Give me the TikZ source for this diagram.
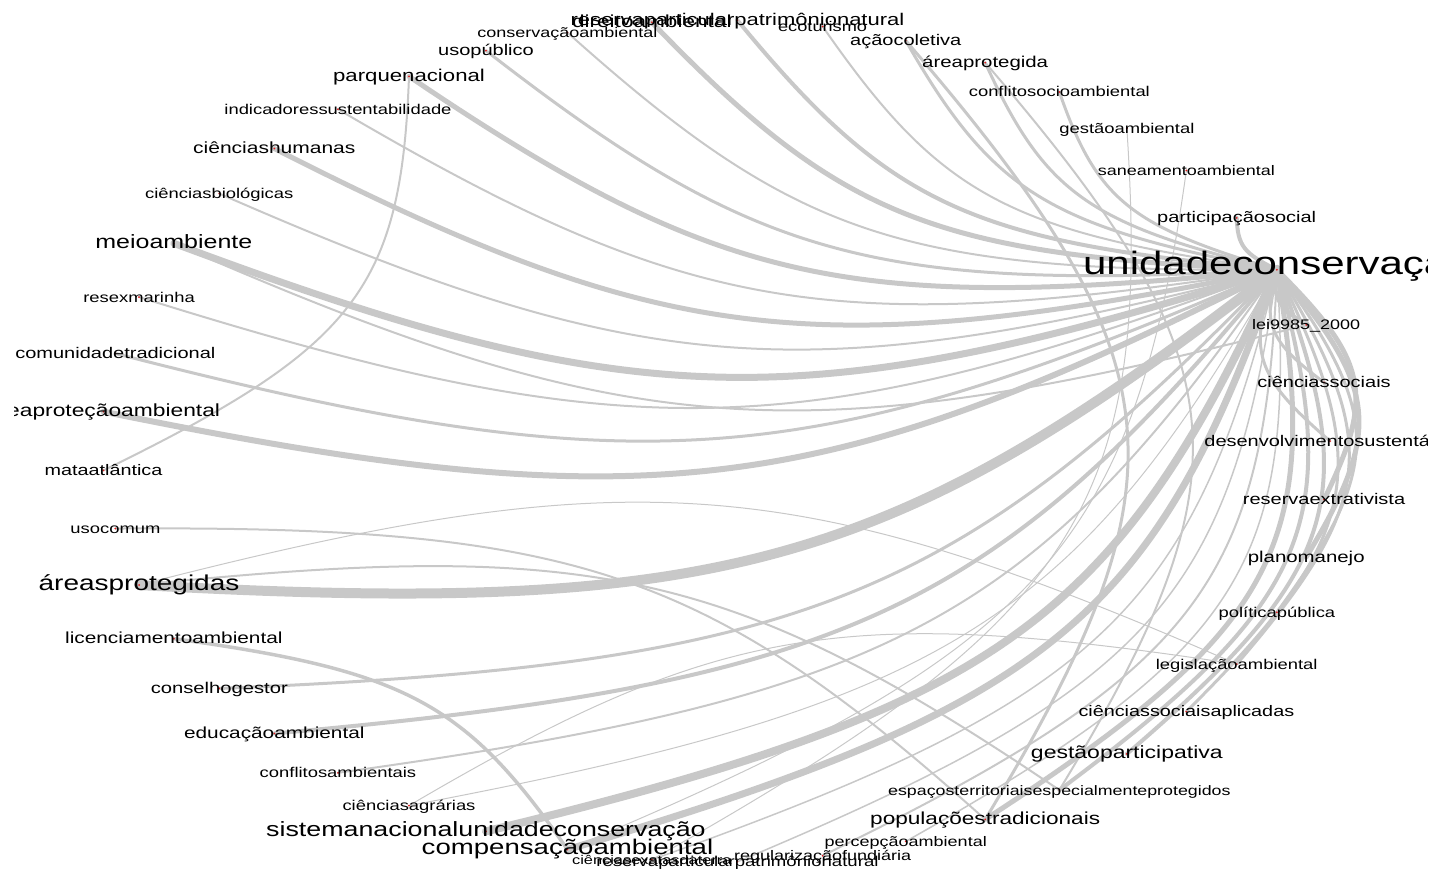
\documentclass[tikz,border=0pt]{standalone}
\usepackage{fontspec}
\setmainfont{Liberation Sans}
\usetikzlibrary{calc}
\definecolor{edgegray}{RGB}{200,200,200}
\definecolor{vertexred}{RGB}{225,30,30}
% curved link between two vertices on the unit circle (vertex k sits at 8k degrees)
\newcommand\arcedge[3]{%
  \pgfmathsetmacro\ea{8*#1}%
  \pgfmathsetmacro\eb{8*#2}%
  \coordinate (ectl) at ({(cos(\ea)+cos(\eb))/2-0.25*(sin(\eb)-sin(\ea))},{(sin(\ea)+sin(\eb))/2+0.25*(cos(\eb)-cos(\ea))});
  \draw[edge,line width=#3*0.5pt] (v#1) .. controls ($(v#1)!0.85!(ectl)$) and ($(v#2)!0.85!(ectl)$) .. (v#2);
}
% label on its vertex; #2 is the size the text would have unstretched,
% the glyphs are set smaller and widened by 1.3
\newcommand\vlabel[3]{%
  \pgfmathsetmacro\lblsize{#2/1.3}%
  \node[lbl,font=\fontsize{\lblsize pt}{\lblsize pt}\selectfont] (n#1) at (v#1) {\scalebox{1.3}[1]{#3}};}
\begin{document}
\begin{tikzpicture}[x=307pt,y=210.5pt,
  edge/.style={draw=edgegray,line cap=round,line join=round},
  lbl/.style={anchor=base,yshift=-2.5pt,inner sep=0pt,text=black}]
\useasboundingbox (-1.16612,-1.02138) rectangle (1.16612,1.04751);
\clip (-1.1433,-1.02138) rectangle (1.1580,1.04751);
\foreach \i in {0,...,44}{\coordinate (v\i) at ({cos(8*\i)},{sin(8*\i)});}

% links of unidadeconservação
\arcedge{0}{3}{3}
\arcedge{1}{3}{3}
\arcedge{2}{3}{4}
\arcedge{3}{4}{4}
\arcedge{3}{7}{3}
\arcedge{3}{8}{3}
\arcedge{3}{9}{3}
\arcedge{3}{10}{2}
\arcedge{3}{11}{4}
\arcedge{3}{12}{5}
\arcedge{3}{13}{2}
\arcedge{3}{14}{3}
\arcedge{3}{15}{5}
\arcedge{3}{16}{2}
\arcedge{3}{17}{5}
\arcedge{3}{18}{2}
\arcedge{3}{19}{7}
\arcedge{3}{20}{2}
\arcedge{3}{21}{3}
\arcedge{3}{22}{6}
\arcedge{3}{25}{10}
\arcedge{3}{27}{3}
\arcedge{3}{28}{4}
\arcedge{3}{29}{2}
\arcedge{3}{30}{1}
\arcedge{3}{31}{8}
\arcedge{3}{32}{7}
\arcedge{3}{33}{1.5}
\arcedge{3}{34}{1.5}
\arcedge{3}{35}{2}
\arcedge{3}{36}{1.5}
\arcedge{3}{37}{5}
\arcedge{3}{38}{4}
\arcedge{3}{39}{4}
\arcedge{3}{40}{3}
\arcedge{3}{41}{3}
\arcedge{3}{42}{3}
\arcedge{3}{43}{5}
\arcedge{3}{44}{5}
% other links
\arcedge{2}{19}{2}
\arcedge{15}{23}{2}
\arcedge{26}{32}{3.5}
\arcedge{24}{37}{2}
\arcedge{25}{38}{2}
\arcedge{25}{41}{1}
\arcedge{30}{41}{1}
\arcedge{9}{37}{3}
\arcedge{8}{38}{2}
\arcedge{6}{33}{1}
\arcedge{5}{32}{1}

% vertex markers
\foreach \i in {0,...,44}{\fill[vertexred] (v\i) circle (0.5pt);}

% labels
\vlabel{0}{10}{desenvolvimentosustentável}
\vlabel{1}{10}{ciênciassociais}
\vlabel{2}{9}{lei9985\_2000}
\vlabel{3}{21}{unidadeconservação}
\vlabel{4}{10}{participaçãosocial}
\vlabel{5}{9}{saneamentoambiental}
\vlabel{6}{9.2}{gestãoambiental}
\vlabel{7}{9.2}{conflitosocioambiental}
\vlabel{8}{10.2}{áreaprotegida}
\vlabel{9}{10}{açãocoletiva}
\vlabel{10}{9.1}{ecoturismo}
\vlabel{11}{11}{reservaparticularpatrimônionatural}
\vlabel{12}{11.3}{direitoambiental}
\vlabel{13}{9}{conservaçãoambiental}
\vlabel{14}{10}{usopúblico}
\vlabel{15}{11.1}{parquenacional}
\vlabel{16}{9.2}{indicadoressustentabilidade}
\vlabel{17}{10.5}{ciênciashumanas}
\vlabel{18}{9.2}{ciênciasbiológicas}
\vlabel{19}{12.5}{meioambiente}
\vlabel{20}{9.2}{resexmarinha}
\vlabel{21}{10}{comunidadetradicional}
\vlabel{22}{11.4}{áreaproteçãoambiental}
\vlabel{23}{9.9}{mataatlântica}
\vlabel{24}{9.2}{usocomum}
\vlabel{25}{14}{áreasprotegidas}
\vlabel{26}{10.4}{licenciamentoambiental}
\vlabel{27}{10.1}{conselhogestor}
\vlabel{28}{10.4}{educaçãoambiental}
\vlabel{29}{9.2}{conflitosambientais}
\vlabel{30}{9.2}{ciênciasagrárias}
\vlabel{31}{13.4}{sistemanacionalunidadeconservação}
\vlabel{32}{13.8}{compensaçãoambiental}
\vlabel{33}{8.2}{ciênciasexatasdaterra}
\vlabel{34}{9.3}{reservaparticularpatrimônionatural}
\vlabel{35}{9}{regularizaçãofundiária}
\vlabel{36}{9}{percepçãoambiental}
\vlabel{37}{11.3}{populaçõestradicionais}
\vlabel{38}{8.9}{espaçosterritoriaisespecialmenteprotegidos}
\vlabel{39}{11.5}{gestãoparticipativa}
\vlabel{40}{9.9}{ciênciassociaisaplicadas}
\vlabel{41}{9.2}{legislaçãoambiental}
\vlabel{42}{9.2}{políticapública}
\vlabel{43}{10.2}{planomanejo}
\vlabel{44}{10}{reservaextrativista}
\end{tikzpicture}
\end{document}
